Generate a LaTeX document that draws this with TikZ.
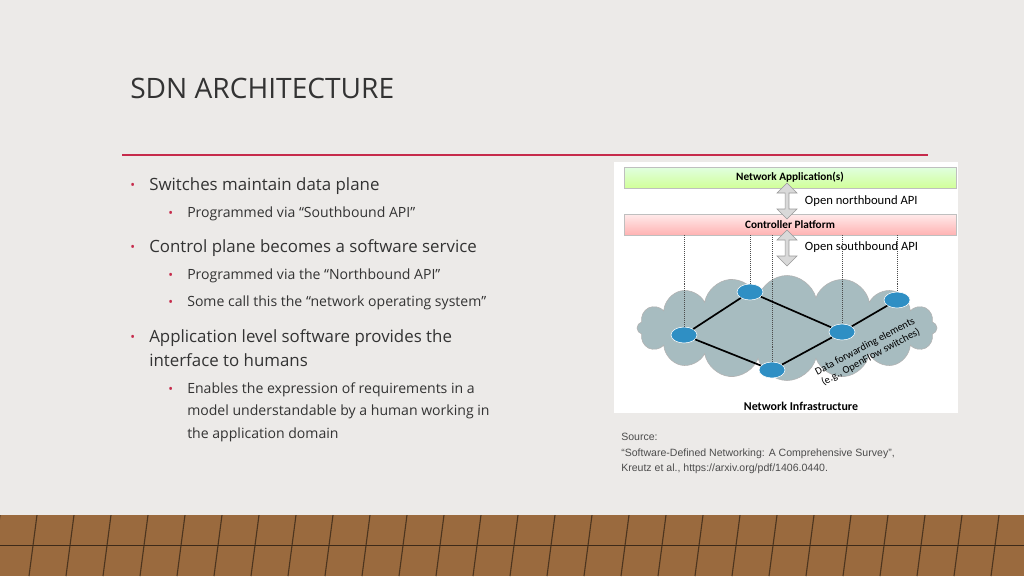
\documentclass[tikz,border=0pt]{standalone}
\usepackage{fontspec}
\setmainfont{Open Sans}
\newfontfamily\srcfont{Liberation Sans}
\newfontfamily\figfont{Carlito}
\usetikzlibrary{shapes.symbols,shapes.arrows,shapes.geometric}
\definecolor{slidebg}{HTML}{ECEAE8}
\definecolor{rule}{HTML}{C62B4B}
\definecolor{wood}{HTML}{9A6A3E}
\definecolor{cloudc}{HTML}{A7BCC0}
\definecolor{routerc}{HTML}{2F8FC4}
\begin{document}
\begin{tikzpicture}
        [x=0.25mm,y=-0.25mm,
        bullet/.style={anchor=west, inner sep=0pt, font=\fontsize{12}{15}\selectfont, text=black!80},
        subbullet/.style={anchor=west, inner sep=0pt, font=\fontsize{10}{16}\selectfont, text=black!80},
        dot/.style={anchor=west, inner sep=0pt, font=\fontsize{9}{10}\selectfont, text=rule},
        layer/.style={draw=black!25, minimum width=332*0.25mm, minimum height=21*0.25mm, font=\figfont\bfseries\fontsize{8}{9}\selectfont},
        router/.style={ellipse, draw=white, fill=routerc, minimum width=6.5mm, minimum height=4mm, inner sep=0pt},
        link/.style={very thick, black},
        probe/.style={densely dotted, black!70},
        apiarrow/.style={double arrow, fill=black!15, draw=black!40, minimum height=9mm, minimum width=5mm, double arrow head extend=1mm, inner sep=0.5pt, shape border rotate=90}]

        \useasboundingbox (0,0) rectangle (1024,576);
        % background and floor
        \fill[slidebg] (0,0) rectangle (1024,576);
        \begin{scope}
          \clip (0,515) rectangle (1024,576);
          \fill[wood] (0,515) rectangle (1024,576);
          \foreach \x in {0,37,...,1060}
            \draw[black!50!wood, thick] (\x,515) -- (\x-8,576);
          \draw[black!60!wood] (0,545) -- (1024,545);
        \end{scope}

        % title
        \node[anchor=west, inner sep=0pt, font=\fontsize{20}{24}\selectfont, text=black!80] (title) at (130,88) {SDN ARCHITECTURE};
        \draw[rule, line width=1.2pt] (122,155) -- (928,155);

        % bullets
        \node[dot] at (130,186) {\textbullet};
        \node[bullet] (b1) at (149,186) {Switches maintain data plane};
        \node[dot] at (168,214) {\textbullet};
        \node[subbullet] (s1) at (187,214) {Programmed via “Southbound API”};
        \node[dot] at (130,248) {\textbullet};
        \node[bullet] (b2) at (149,248) {Control plane becomes a software service};
        \node[dot] at (168,276) {\textbullet};
        \node[subbullet] (s2) at (187,276) {Programmed via the “Northbound API”};
        \node[dot] at (168,303) {\textbullet};
        \node[subbullet] (s3) at (187,303) {Some call this the “network operating system”};
        \node[dot] at (130,338) {\textbullet};
        \node[bullet, anchor=north west, align=left, font=\fontsize{12}{17}\selectfont] (b3) at (149,329) {Application level software provides the\\interface to humans};
        \node[dot] at (168,390) {\textbullet};
        \node[subbullet, anchor=north west, align=left] (s4) at (187,382) {Enables the expression of requirements in a\\model understandable by a human working in\\the application domain};

        % figure
        \fill[white] (614,162) rectangle (958,413);
        \node[cloud, cloud puffs=16, aspect=2.8, fill=cloudc, draw=black!30, minimum width=300*0.25mm, minimum height=105*0.25mm] (infra) at (787,328) {};
        \node[layer, top color=green!12, bottom color=green!45!yellow!40] (app) at (790,177.5) {Network Application(s)};
        \node[layer, top color=red!8, bottom color=red!30] (ctrl) at (790,224.5) {Controller Platform};
        \node[apiarrow] (north) at (787,201) {};
        \node[apiarrow] (south) at (787,248) {};
        \node[anchor=west, font=\figfont\fontsize{9}{10}\selectfont] (nlabel) at (800,201) {Open northbound API};
        \node[anchor=west, font=\figfont\fontsize{9}{10}\selectfont] (slabel) at (800,247) {Open southbound API};

        \node[router] (r1) at (750,292) {};
        \node[router] (r2) at (684,335) {};
        \node[router] (r3) at (772,370) {};
        \node[router] (r4) at (842,332) {};
        \node[router] (r5) at (897,300) {};
        \foreach \r in {r1,r2,r3,r4,r5}
          \draw[probe] (ctrl.south -| \r) -- (\r);
        \draw[link] (r2) -- (r1) -- (r4) -- (r5);
        \draw[link] (r2) -- (r3) -- (r4);

        \node[rotate=28, align=center, inner sep=0pt, font=\figfont\fontsize{7.5}{8.5}\selectfont] (dlabel) at (868,352) {Data forwarding elements\\(e.g., OpenFlow switches)};
        \node[font=\figfont\bfseries\fontsize{8.5}{9}\selectfont] (ilabel) at (801,406) {Network Infrastructure};

        % source
        \node[anchor=north west, align=left, inner sep=0pt, font=\srcfont\fontsize{7.5}{11}\selectfont, text=black!70] (src) at (621,433) {Source:\\“Software-Defined Networking: A Comprehensive Survey”,\\Kreutz et al., https://arxiv.org/pdf/1406.0440.};
\end{tikzpicture}
\end{document}
